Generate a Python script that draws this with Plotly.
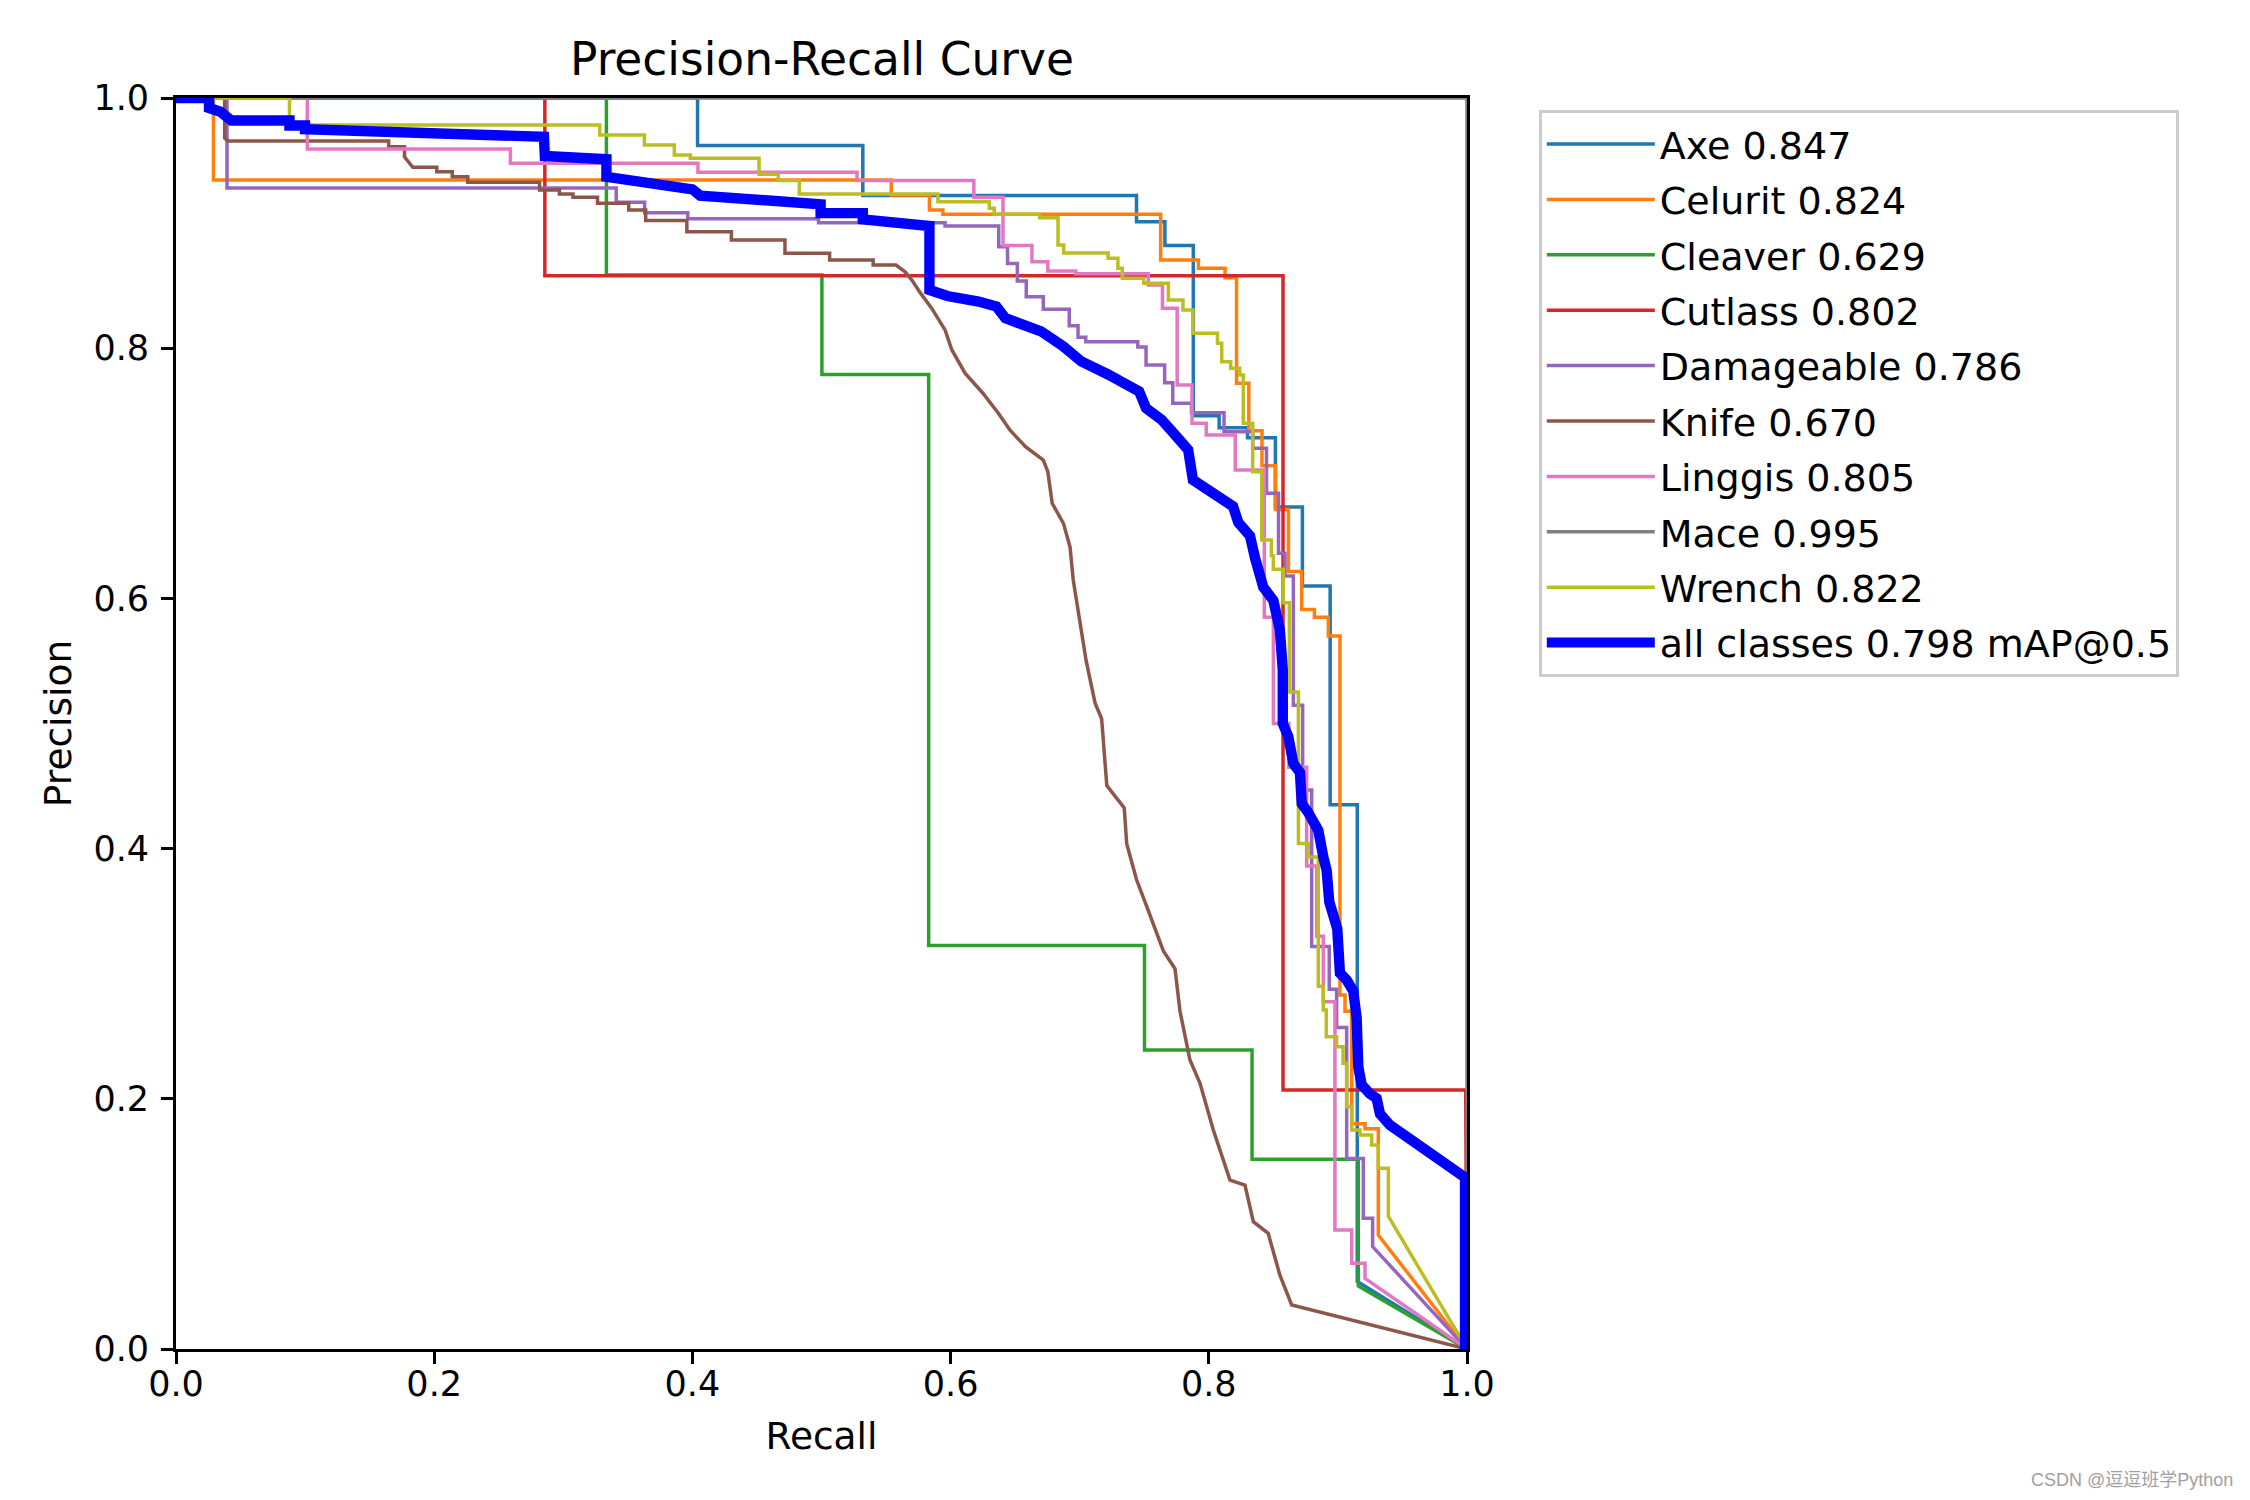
import plotly.graph_objects as go

# ---- data (recall, precision vertices) ----
names = ["Axe", "Celurit", "Cleaver", "Cutlass", "Damageable", "Knife", "Linggis", "Mace", "Wrench"]
ap50 = [0.847, 0.824, 0.629, 0.802, 0.786, 0.670, 0.805, 0.995, 0.822]
map50 = 0.798

axe_r = [0, 0.404, 0.404, 0.532, 0.532, 0.744, 0.744, 0.766, 0.766, 0.788, 0.788, 0.808, 0.808, 0.830, 0.830,
         0.8516, 0.8516, 0.8725, 0.8725, 0.894, 0.894, 0.915, 0.915, 1.0]
axe_p = [1, 1, 0.962, 0.962, 0.922, 0.922, 0.901, 0.901, 0.882, 0.882, 0.746, 0.746, 0.7365, 0.7365, 0.7285,
         0.7285, 0.673, 0.673, 0.610, 0.610, 0.435, 0.435, 0.054, 0.0]

celurit_r = [0, 0.029, 0.029, 0.554, 0.554, 0.5836, 0.5836, 0.594, 0.594, 0.7627, 0.7627, 0.792, 0.792, 0.8126,
             0.8126, 0.8215, 0.8215, 0.831, 0.831, 0.8412, 0.8412, 0.8516, 0.8516, 0.8617, 0.8617, 0.872, 0.872,
             0.8818, 0.8818, 0.8926, 0.8926, 0.9016, 0.9016, 0.9055, 0.9055, 0.9107, 0.9107, 0.921, 0.921, 0.9313,
             0.9313, 1.0]
celurit_p = [1, 1, 0.9345, 0.9345, 0.9225, 0.9225, 0.9105, 0.9105, 0.907, 0.907, 0.8705, 0.8705, 0.864, 0.864,
             0.8564, 0.8564, 0.772, 0.772, 0.734, 0.734, 0.706, 0.706, 0.671, 0.671, 0.6216, 0.6216, 0.5912,
             0.5912, 0.585, 0.585, 0.570, 0.570, 0.283, 0.283, 0.27, 0.27, 0.180, 0.180, 0.176, 0.176, 0.091, 0.0]

cleaver_r = [0, 0.3334, 0.3334, 0.5003, 0.5003, 0.583, 0.583, 0.7502, 0.7502, 0.8335, 0.8335, 0.9158, 0.9158, 1.0]
cleaver_p = [1, 1, 0.8585, 0.8585, 0.779, 0.779, 0.3225, 0.3225, 0.239, 0.239, 0.1516, 0.1516, 0.0504, 0.0]

cutlass_r = [0, 0.2857, 0.2857, 0.8575, 0.8575, 0.999, 1.0]
cutlass_p = [1, 1, 0.858, 0.858, 0.207, 0.207, 0.0]

damage_r = [0, 0.0395, 0.0395, 0.341, 0.341, 0.363, 0.363, 0.3964, 0.3964, 0.4977, 0.4977, 0.5957, 0.5957,
            0.6373, 0.6373, 0.6441, 0.6441, 0.6517, 0.6517, 0.6586, 0.6586, 0.6718, 0.6718, 0.6919, 0.6919,
            0.6987, 0.6987, 0.7047, 0.7047, 0.745, 0.745, 0.7514, 0.7514, 0.7658, 0.7658, 0.7721, 0.7721,
            0.7866, 0.7866, 0.8118, 0.8118, 0.834, 0.834, 0.8447, 0.8447, 0.854, 0.854, 0.859, 0.859, 0.8655,
            0.8655, 0.8727, 0.8727, 0.8797, 0.8797, 0.8933, 0.8933, 0.899, 0.899, 0.9068, 0.9068, 0.9197,
            0.9197, 0.9269, 0.9269, 1.0]
damage_p = [1, 1, 0.928, 0.928, 0.9166, 0.9166, 0.9083, 0.9083, 0.9035, 0.9035, 0.9003, 0.9003, 0.8977,
            0.8977, 0.881, 0.881, 0.8678, 0.8678, 0.8537, 0.8537, 0.8412, 0.8412, 0.8311, 0.8311, 0.818,
            0.818, 0.8087, 0.8087, 0.8052, 0.8052, 0.801, 0.801, 0.7866, 0.7866, 0.7724, 0.7724, 0.756,
            0.756, 0.7485, 0.7485, 0.7333, 0.7333, 0.720, 0.720, 0.684, 0.684, 0.636, 0.636, 0.618, 0.618,
            0.5145, 0.5145, 0.4468, 0.4468, 0.3218, 0.3218, 0.2875, 0.2875, 0.257, 0.257, 0.1523, 0.1523,
            0.1045, 0.1045, 0.0818, 0.0]

knife_r = [0, 0.0377, 0.0377, 0.040, 0.1647, 0.1647, 0.177, 0.177, 0.1834, 0.202, 0.202, 0.214, 0.214, 0.226,
           0.226, 0.2816, 0.2816, 0.297, 0.297, 0.3075, 0.3075, 0.3265, 0.3265, 0.3507, 0.3507, 0.3638, 0.3638,
           0.3957, 0.3957, 0.4302, 0.4302, 0.4717, 0.4717, 0.5063, 0.5063, 0.540, 0.540, 0.5577, 0.5647, 0.570,
           0.5767, 0.5853, 0.5957, 0.601, 0.6112, 0.625, 0.637, 0.6459, 0.658, 0.6718, 0.6753, 0.6787, 0.6874,
           0.6925, 0.695, 0.705, 0.712, 0.717, 0.721, 0.7345, 0.7364, 0.744, 0.7519, 0.7583, 0.7648, 0.7738,
           0.7777, 0.7854, 0.7932, 0.8035, 0.8164, 0.828, 0.8345, 0.846, 0.855, 0.8642, 1.0]
knife_p = [1, 1, 0.968, 0.9656, 0.9656, 0.961, 0.961, 0.953, 0.9446, 0.9446, 0.941, 0.941, 0.937, 0.937,
           0.9326, 0.9326, 0.9265, 0.9265, 0.9233, 0.9233, 0.9206, 0.9206, 0.9158, 0.9158, 0.9105, 0.9105,
           0.902, 0.902, 0.8931, 0.8931, 0.8865, 0.8865, 0.8759, 0.8759, 0.8705, 0.8705, 0.8665, 0.8665, 0.861,
           0.8545, 0.844, 0.832, 0.8146, 0.7986, 0.78, 0.764, 0.748, 0.7346, 0.7213, 0.7106, 0.7013, 0.676,
           0.66, 0.6413, 0.6147, 0.55, 0.516, 0.5038, 0.4503, 0.4325, 0.404, 0.3753, 0.3539, 0.336, 0.3182,
           0.304, 0.27, 0.231, 0.2124, 0.175, 0.135, 0.131, 0.1018, 0.0925, 0.0592, 0.0352, 0.0]

linggis_r = [0, 0.1017, 0.1017, 0.259, 0.259, 0.4043, 0.4043, 0.5275, 0.5275, 0.618, 0.618, 0.6406, 0.6406,
             0.663, 0.663, 0.6753, 0.6753, 0.697, 0.697, 0.7531, 0.7531, 0.7641, 0.7641, 0.7755, 0.7755, 0.787,
             0.787, 0.798, 0.798, 0.8205, 0.8205, 0.843, 0.843, 0.850, 0.850, 0.862, 0.862, 0.8758, 0.8758,
             0.8836, 0.8836, 0.8887, 0.8887, 0.8977, 0.8977, 0.9107, 0.9107, 0.921, 0.921, 1.0]
linggis_p = [1, 1, 0.9592, 0.9592, 0.9478, 0.9478, 0.9406, 0.9406, 0.934, 0.934, 0.9206, 0.9206, 0.882, 0.882,
             0.8692, 0.8692, 0.8617, 0.8617, 0.8596, 0.8596, 0.8505, 0.8505, 0.8319, 0.8319, 0.7706, 0.7706,
             0.740, 0.740, 0.7306, 0.7306, 0.7026, 0.7026, 0.585, 0.585, 0.50, 0.50, 0.465, 0.465, 0.386,
             0.386, 0.33, 0.33, 0.2776, 0.2776, 0.0951, 0.0951, 0.0685, 0.0685, 0.0565, 0.0]

mace_r = [0, 1.0, 1.0]
mace_p = [1, 1, 0.0]

wrench_r = [0, 0.0879, 0.0879, 0.3282, 0.3282, 0.3628, 0.3628, 0.386, 0.386, 0.3984, 0.3984, 0.4516, 0.4516,
            0.4665, 0.4665, 0.4828, 0.4828, 0.5902, 0.5902, 0.630, 0.630, 0.6338, 0.6338, 0.669, 0.669, 0.6832,
            0.6832, 0.6876, 0.6876, 0.722, 0.722, 0.7296, 0.7296, 0.733, 0.733, 0.7496, 0.7496, 0.7687, 0.7687,
            0.78, 0.78, 0.7877, 0.7877, 0.8067, 0.8067, 0.810, 0.810, 0.817, 0.817, 0.824, 0.824, 0.8267, 0.8267,
            0.834, 0.834, 0.841, 0.841, 0.8485, 0.8485, 0.85, 0.85, 0.8577, 0.8577, 0.8624, 0.8624, 0.8694,
            0.8694, 0.877, 0.877, 0.8848, 0.8848, 0.8887, 0.8887, 0.891, 0.891, 0.899, 0.899, 0.904, 0.904,
            0.9068, 0.9068, 0.9107, 0.9107, 0.9171, 0.9171, 0.9262, 0.9262, 0.9313, 0.9313, 0.9391, 0.9391, 1.0]
wrench_p = [1, 1, 0.9784, 0.9784, 0.9704, 0.9704, 0.9624, 0.9624, 0.9544, 0.9544, 0.9518, 0.9518, 0.939,
            0.939, 0.934, 0.934, 0.9233, 0.9233, 0.9171, 0.9171, 0.9118, 0.9118, 0.907, 0.907, 0.9043, 0.9043,
            0.8825, 0.8825, 0.876, 0.876, 0.872, 0.872, 0.864, 0.864, 0.8559, 0.8559, 0.8519, 0.8519, 0.8385,
            0.8385, 0.8305, 0.8305, 0.812, 0.812, 0.804, 0.804, 0.7892, 0.7892, 0.784, 0.784, 0.7786, 0.7786,
            0.740, 0.740, 0.7013, 0.7013, 0.6467, 0.6467, 0.634, 0.634, 0.6234, 0.6234, 0.5966, 0.5966, 0.5252,
            0.5252, 0.404, 0.404, 0.3933, 0.3933, 0.29, 0.29, 0.271, 0.271, 0.2497, 0.2497, 0.2417, 0.2417,
            0.2284, 0.2284, 0.1937, 0.1937, 0.175, 0.175, 0.171, 0.171, 0.163, 0.163, 0.1444, 0.1444, 0.106, 0.0]

all_r = [0, 0.0256, 0.0256, 0.0343, 0.0429, 0.0879, 0.0879, 0.0999, 0.0999, 0.285, 0.2857, 0.3334, 0.3334,
         0.40, 0.406, 0.4993, 0.4993, 0.532, 0.532, 0.5802, 0.5836, 0.5836, 0.5975, 0.6217, 0.6355, 0.6424,
         0.670, 0.6874, 0.7012, 0.722, 0.746, 0.7514, 0.7635, 0.7738, 0.784, 0.7877, 0.805, 0.8188, 0.8228,
         0.8319, 0.8358, 0.8422, 0.85, 0.855, 0.8573, 0.8573, 0.8616, 0.8655, 0.8706, 0.872, 0.877, 0.8848,
         0.8887, 0.8913, 0.8933, 0.8995, 0.9016, 0.9068, 0.9119, 0.9145, 0.9158, 0.9184, 0.9248, 0.93, 0.9326,
         0.9403, 0.9985, 0.9985]
all_p = [1, 1, 0.992, 0.989, 0.982, 0.982, 0.978, 0.978, 0.975, 0.969, 0.9536, 0.951, 0.937, 0.927, 0.922,
         0.915, 0.908, 0.908, 0.903, 0.8977, 0.8977, 0.8465, 0.8417, 0.8373, 0.8333, 0.824, 0.8135, 0.8014,
         0.7894, 0.779, 0.7655, 0.752, 0.7428, 0.7308, 0.7188, 0.6948, 0.6842, 0.6735, 0.6608, 0.650, 0.6323,
         0.609, 0.5984, 0.575, 0.543, 0.500, 0.4895, 0.468, 0.461, 0.436, 0.4289, 0.4146, 0.3933, 0.3825,
         0.3575, 0.336, 0.3004, 0.295, 0.2862, 0.2647, 0.2254, 0.2112, 0.204, 0.2004, 0.188, 0.179, 0.137, 0.0]

tick_vals = [0.0, 0.2, 0.4, 0.6, 0.8, 1.0]
tick_text = ["0.0", "0.2", "0.4", "0.6", "0.8", "1.0"]

colors = ["#1f77b4", "#ff7f0e", "#2ca02c", "#d62728", "#9467bd", "#8c564b", "#e377c2", "#7f7f7f", "#bcbd22"]

series_r = [axe_r, celurit_r, cleaver_r, cutlass_r, damage_r, knife_r, linggis_r, mace_r, wrench_r]
series_p = [axe_p, celurit_p, cleaver_p, cutlass_p, damage_p, knife_p, linggis_p, mace_p, wrench_p]

FONT = "DejaVu Sans"
fig = go.Figure()
for name, ap, c, r, p in zip(names, ap50, colors, series_r, series_p):
    lab = f"{name} {ap:.3f}"
    fig.add_trace(go.Scatter(x=r, y=p, mode="lines", name=lab, legendgroup=lab,
                             line=dict(color=c, width=3.5), showlegend=True))
lab = f"all classes {map50:.3f} mAP@0.5"
fig.add_trace(go.Scatter(x=all_r, y=all_p, mode="lines", name=lab, legendgroup=lab,
                         line=dict(color="#0000ff", width=10.4)))

axis_common = dict(range=[0, 1], tickvals=tick_vals, ticktext=tick_text, showgrid=False, zeroline=False,
                   showline=True, linecolor="black", linewidth=2.8, mirror=True,
                   ticks="outside", ticklen=12, tickwidth=2.8, tickcolor="black",
                   tickfont=dict(family=FONT, size=35, color="black"))

# the page body has an 8px margin: the figure is made 8px smaller and margins shifted
PW, PH = 2242, 1492
fig.update_layout(
    width=PW, height=PH,
    margin=dict(l=168, r=783, t=90, b=151, autoexpand=False),
    paper_bgcolor="white", plot_bgcolor="white",
    font=dict(family=FONT, size=35, color="black"),
    xaxis=dict(**axis_common, ticklabelstandoff=-10,
               title=dict(text="Recall", font=dict(family=FONT, size=37.5), standoff=20)),
    yaxis=dict(**axis_common, ticklabelstandoff=5,
               title=dict(text="Precision", font=dict(family=FONT, size=37.5), standoff=11)),
    legend=dict(x=(1539 - 176) / 1291, y=(1349 - 110) / 1251, xanchor="left", yanchor="top",
                bgcolor="white", bordercolor="#cccccc", borderwidth=2.8,
                font=dict(family=FONT, size=38, color="black"),
                tracegroupgap=3, itemwidth=108),
    showlegend=True,
)

fig.add_annotation(text="Precision-Recall Curve", x=0.5, y=1, xref="paper", yref="paper",
                   xanchor="center", yanchor="bottom", yshift=10, showarrow=False,
                   font=dict(family=FONT, size=45.5, color="black"))

fig.add_annotation(text="CSDN @逗逗班学Python", x=(2235 - 176) / 1291, y=(1349 - 1480) / 1251,
                   xref="paper", yref="paper", showarrow=False, xanchor="right", yanchor="middle",
                   font=dict(family="Liberation Sans, Noto Sans CJK SC", size=18, color="#a0a0a0"))

fig.write_html("out.html")
